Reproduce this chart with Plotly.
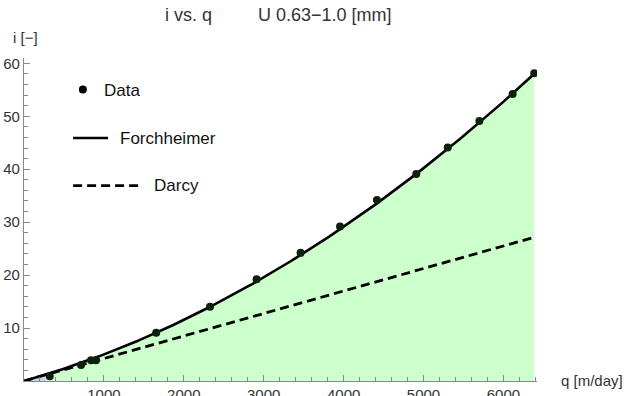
import numpy as np
import plotly.graph_objects as go

# Measured hydraulic gradient i [-] against specific discharge q [m/day]
q_data = [322, 714, 839, 901, 1654, 2328, 2911, 3461, 3955, 4417, 4909, 5303, 5699, 6115, 6386]
i_data = [0.9, 3.0, 3.9, 3.9, 9.1, 14.0, 19.2, 24.2, 29.2, 34.2, 39.1, 44.1, 49.1, 54.2, 58.1]

# Forchheimer coefficients: i = a*q + b*q^2 ; Darcy keeps only the linear term
a_lin = 0.00425
b_quad = 7.57e-7

x_ticks = [1000, 2000, 3000, 4000, 5000, 6000]
y_ticks = [10, 20, 30, 40, 50, 60]

q_curve = np.linspace(0, q_data[-1], 200)
i_forch = a_lin * q_curve + b_quad * q_curve ** 2
i_darcy = a_lin * q_curve

# plot-area geometry in pixels
W, H = 627, 396
L, R, T, B = 23.5, 537.5, 58.0, 380.7


def px(x):
    return (x - L) / (R - L)


def py(y):
    return (B - y) / (B - T)


fig = go.Figure()

# filled region under the Forchheimer curve
fig.add_trace(go.Scatter(x=q_curve, y=i_forch, mode="lines", fill="tozeroy",
                         fillcolor="rgb(204,255,204)", line=dict(width=0),
                         hoverinfo="skip", showlegend=False))
# small lavender wedge near the origin
q_w = [0, 270, 270]
i_w = [0, a_lin * 270 * 0.6, 0]
fig.add_trace(go.Scatter(x=q_w, y=i_w, mode="lines", fill="toself",
                         fillcolor="rgb(205,205,240)", line=dict(width=0),
                         hoverinfo="skip", showlegend=False))

fig.add_trace(go.Scatter(x=q_curve, y=i_darcy, mode="lines",
                         line=dict(color="black", width=2.8, dash="9px,5px"),
                         showlegend=False))
fig.add_trace(go.Scatter(x=q_curve, y=i_forch, mode="lines",
                         line=dict(color="black", width=2.6), showlegend=False))
fig.add_trace(go.Scatter(x=q_data, y=i_data, mode="markers",
                         marker=dict(color="rgb(12,32,12)", size=8),
                         showlegend=False))

axis_color = "#8a8a8a"
tick_font = dict(family="Liberation Sans, Arial, sans-serif", size=15, color="#333333")

fig.update_xaxes(range=[0, 6420], showgrid=False, zeroline=False, automargin=False,
                 showline=True, linecolor=axis_color, linewidth=1.2,
                 ticks="inside", ticklen=6, tickcolor=axis_color, tickwidth=1,
                 tickvals=x_ticks, ticktext=[str(v) for v in x_ticks],
                 tickfont=tick_font,
                 minor=dict(dtick=200, tick0=0, ticks="inside", ticklen=3.5,
                            tickcolor=axis_color, tickwidth=1))
fig.update_yaxes(range=[0, 61], showgrid=False, zeroline=False, automargin=False,
                 showline=True, linecolor=axis_color, linewidth=1.2,
                 ticks="inside", ticklen=6, tickcolor=axis_color, tickwidth=1,
                 tickvals=y_ticks, ticktext=[str(v) for v in y_ticks],
                 tickfont=tick_font,
                 minor=dict(dtick=2, tick0=0, ticks="inside", ticklen=3.5,
                            tickcolor=axis_color, tickwidth=1))

text_font = "Liberation Sans, Arial, sans-serif"
annotations = [
    dict(text="i vs. q", x=px(163), y=py(15), xanchor="left", yanchor="middle",
         font=dict(family=text_font, size=18, color="#333333")),
    dict(text="U 0.63\u22121.0 [mm]", x=px(255.7), y=py(15), xanchor="left", yanchor="middle",
         font=dict(family=text_font, size=18, color="#333333")),
    dict(text="i [\u2212]", x=px(10), y=py(37.5), xanchor="left", yanchor="middle",
         font=dict(family=text_font, size=15, color="#333333")),
    dict(text="q [m/day]", x=px(560), y=py(380), xanchor="left", yanchor="middle",
         font=dict(family=text_font, size=15, color="#333333")),
    dict(text="Data", x=px(101.5), y=py(90), xanchor="left", yanchor="middle",
         font=dict(family=text_font, size=17, color="#111111")),
    dict(text="Forchheimer", x=px(118), y=py(138), xanchor="left", yanchor="middle",
         font=dict(family=text_font, size=17, color="#111111")),
    dict(text="Darcy", x=px(151.5), y=py(185.5), xanchor="left", yanchor="middle",
         font=dict(family=text_font, size=17, color="#111111")),
]
for a in annotations:
    a.update(xref="paper", yref="paper", showarrow=False)

shapes = [
    dict(type="circle", xref="paper", yref="paper",
         x0=px(78.5), x1=px(86.5), y0=py(93.5), y1=py(85.5),
         fillcolor="black", line=dict(width=0)),
    dict(type="line", xref="paper", yref="paper",
         x0=px(72.7), x1=px(107.7), y0=py(138), y1=py(138),
         line=dict(color="black", width=2.6)),
    dict(type="line", xref="paper", yref="paper",
         x0=px(72.7), x1=px(138.3), y0=py(185.5), y1=py(185.5),
         line=dict(color="black", width=2.8, dash="9px,5px")),
]

fig.update_layout(width=W, height=H, margin=dict(l=L, r=W - R, t=T, b=H - B),
                  paper_bgcolor="white", plot_bgcolor="white",
                  annotations=annotations, shapes=shapes, showlegend=False)

fig.write_html("out.html")
